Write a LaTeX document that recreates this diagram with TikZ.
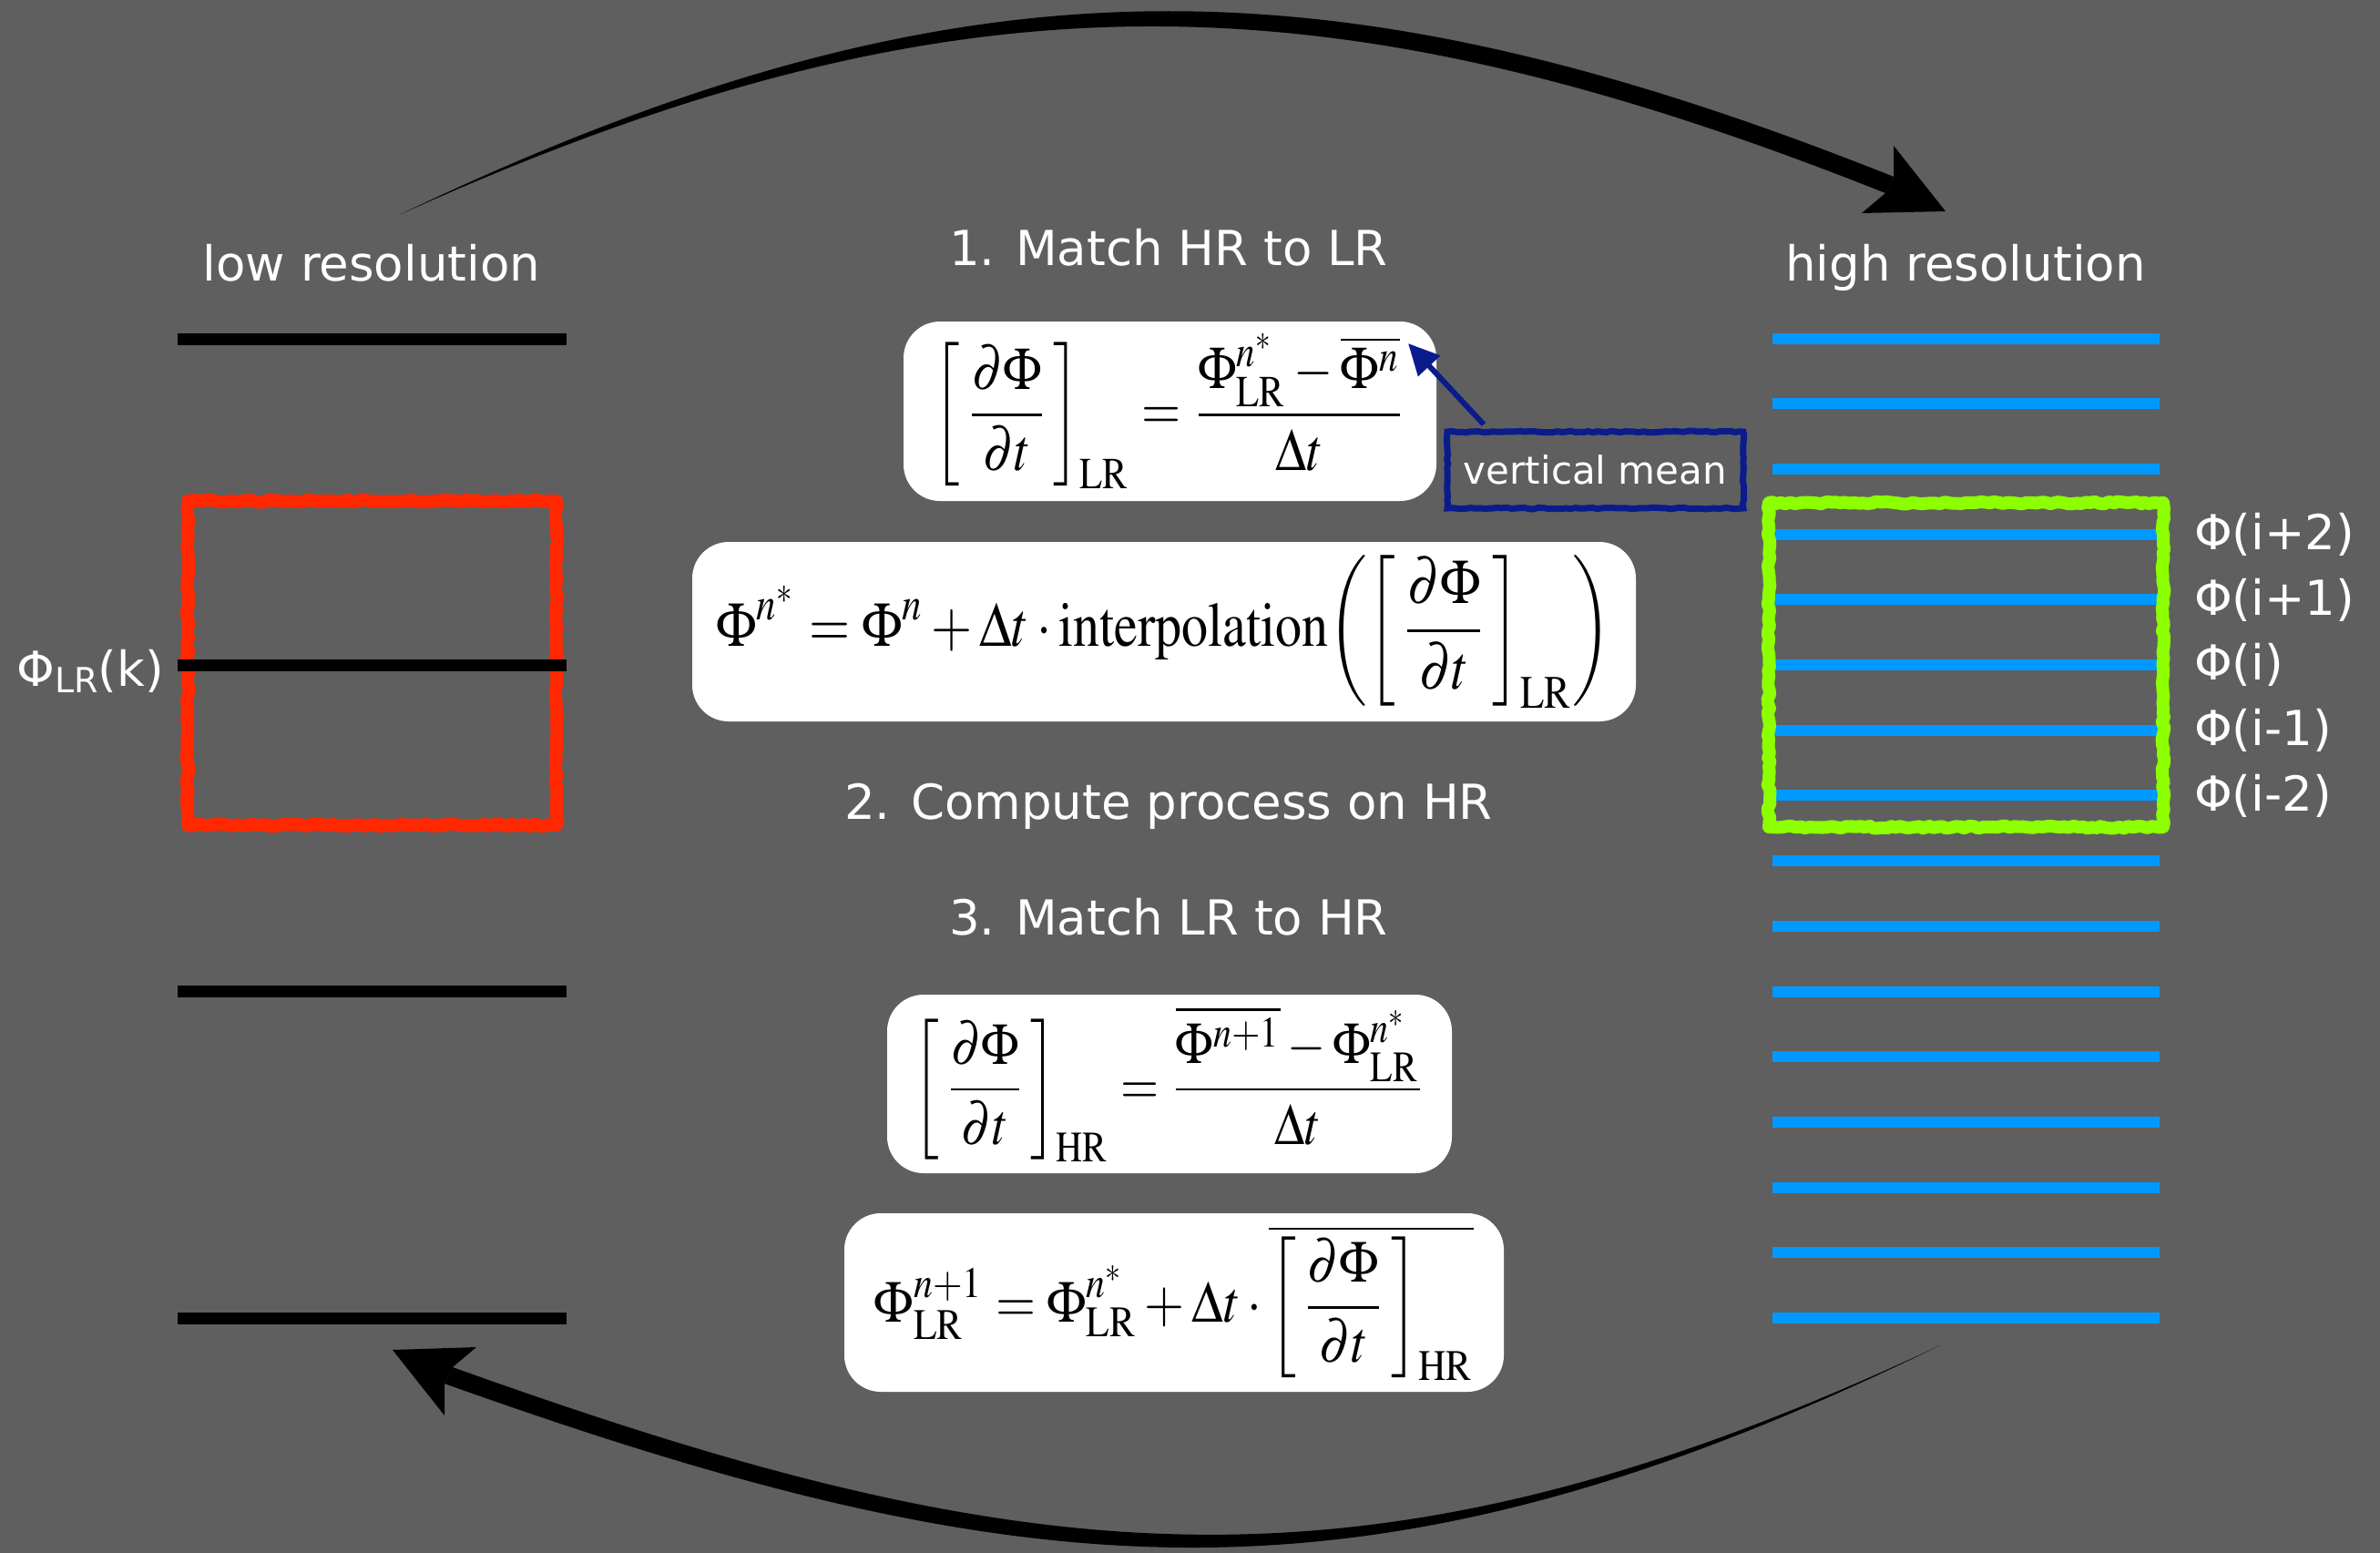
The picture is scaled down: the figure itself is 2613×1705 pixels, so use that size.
\documentclass[tikz,border=0pt]{standalone}
\usepackage{amsmath}
\usepackage{mathptmx}
\usepackage[no-math]{fontspec}
\setmainfont{DejaVu Sans}
\usepackage{graphicx}
\usetikzlibrary{arrows.meta,decorations.pathmorphing}
\definecolor{bg}{HTML}{5F5F5F}
\definecolor{redc}{RGB}{255,40,0}
\definecolor{greenc}{RGB}{140,255,0}
\definecolor{bluec}{RGB}{0,153,255}
\definecolor{vmblue}{RGB}{10,28,140}
\begin{document}
\pgfmathsetseed{7}
\begin{tikzpicture}[x=1pt,y=-1pt,
  lbl/.style={text=white, font=\fontsize{53}{60}\selectfont, inner sep=0pt},
  eqbox/.style={fill=white, rounded corners=40pt, inner sep=0pt},
  lrline/.style={line width=13pt, black},
  hrline/.style={line width=12pt, bluec},
  sketch/.style={line width=14pt, line join=round, decorate,
     decoration={random steps, segment length=5pt, amplitude=1.4pt}},
  bigarrow/.style={fill=black}]
\useasboundingbox (0,0) rectangle (2613,1705);
\fill[bg] (0,0) rectangle (2613,1705);

% titles
\node[lbl, anchor=base] (lowres) at (408,308) {low resolution};
\node[lbl, anchor=base] (highres) at (2158,308) {high resolution};
\node[lbl, anchor=base] (step1) at (1283,291) {1. Match HR to LR};
\node[lbl, anchor=base] (step2) at (1283,899) {2. Compute process on HR};
\node[lbl, anchor=base] (step3) at (1283,1026) {3. Match LR to HR};

% low resolution column
\draw[sketch, draw=redc] (206,550) rectangle (611,906);
\foreach \yy in {372,730,1088,1447} \draw[lrline] (195,\yy) -- (622,\yy);
\node[lbl, anchor=east] (phik) at (180,737) {Φ\raisebox{-0.12em}{\fontsize{38}{40}\selectfont LR}(k)};

% high resolution column
\foreach \k in {-5,...,10} \draw[hrline] (1946,{730+71.7*\k}) -- (2371,{730+71.7*\k});
\draw[sketch, draw=greenc] (1942,552) rectangle (2375,908);
\node[lbl, anchor=west] (pip2) at (2409,587) {Φ(i+2)};
\node[lbl, anchor=west] (pip1) at (2409,658.5) {Φ(i+1)};
\node[lbl, anchor=west] (pii) at (2409,730) {Φ(i)};
\node[lbl, anchor=west] (pim1) at (2409,801.7) {Φ(i-1)};
\node[lbl, anchor=west] (pim2) at (2409,873.4) {Φ(i-2)};

% equation boxes
\node[eqbox, minimum width=585pt, minimum height=197pt] (eq1) at (1284.5,451.5)
 {\resizebox*{519pt}{170pt}{$\displaystyle \left[\,\dfrac{\partial\Phi}{\partial t}\,\right]_{\mathrm{LR}} = \dfrac{\Phi_{\mathrm{LR}}^{n^*}-\overline{\Phi^{n}}}{\Delta t}$}};
\node[eqbox, minimum width=1036pt, minimum height=197pt] (eq2) at (1278,693.5)
 {\resizebox*{983pt}{168pt}{$\displaystyle \Phi^{n^*}=\Phi^{n}+\Delta t\cdot\mathrm{interpolation}\!\left(\left[\,\dfrac{\partial\Phi}{\partial t}\,\right]_{\mathrm{LR}}\right)$}};
\node[eqbox, minimum width=620pt, minimum height=196pt] (eq3) at (1284,1190)
 {\resizebox*{562pt}{171pt}{$\displaystyle \left[\,\dfrac{\partial\Phi}{\partial t}\,\right]_{\mathrm{HR}} = \dfrac{\overline{\Phi^{n+1}}-\Phi_{\mathrm{LR}}^{n^*}}{\Delta t}$}};
\node[eqbox, minimum width=724pt, minimum height=196pt] (eq4) at (1289,1430)
 {\resizebox*{658pt}{170pt}{$\displaystyle \Phi_{\mathrm{LR}}^{n+1}=\Phi_{\mathrm{LR}}^{n^*}+\Delta t\cdot\overline{\left[\,\dfrac{\partial\Phi}{\partial t}\,\right]_{\mathrm{HR}}}$}};

% vertical mean
\node[draw=vmblue, line width=7pt, minimum width=325pt, minimum height=84pt,
  text=white, font=\fontsize{42}{48}\selectfont, inner sep=0pt,
  decorate, decoration={random steps, segment length=5pt, amplitude=0.8pt}] (vm) at (1751.5,516) {vertical mean};
\coordinate (vmtail) at (1629,466);
\coordinate (vmtip) at (1546,377);
\draw[vmblue, line width=6pt, -{Triangle[length=34pt,width=32pt]}] (vmtail) -- (vmtip);

% top arrow (low -> high)
\coordinate (ttail) at (438,236);
\coordinate (ttip) at (2136,232);
\fill[bigarrow] (ttail) .. controls (1051,-57) and (1459,-53) .. (2079,194)
   -- (2070,212) .. controls (1459,-31) and (1051,-41) .. (ttail) -- cycle;
\fill[bigarrow] (ttip) -- (2079,160) -- (2079,194) -- (2070,212) -- (2044,234) -- cycle;

% bottom arrow (high -> low)
\coordinate (btail) at (2130,1477);
\coordinate (btip) at (431,1482);
\fill[bigarrow] (btail) .. controls (1498,1774) and (1124,1726) .. (497,1501)
   -- (488,1519) .. controls (1124,1746) and (1498,1786) .. (btail) -- cycle;
\fill[bigarrow] (btip) -- (523,1479) -- (497,1501) -- (488,1519) -- (488,1554) -- cycle;
\end{tikzpicture}
\end{document}
